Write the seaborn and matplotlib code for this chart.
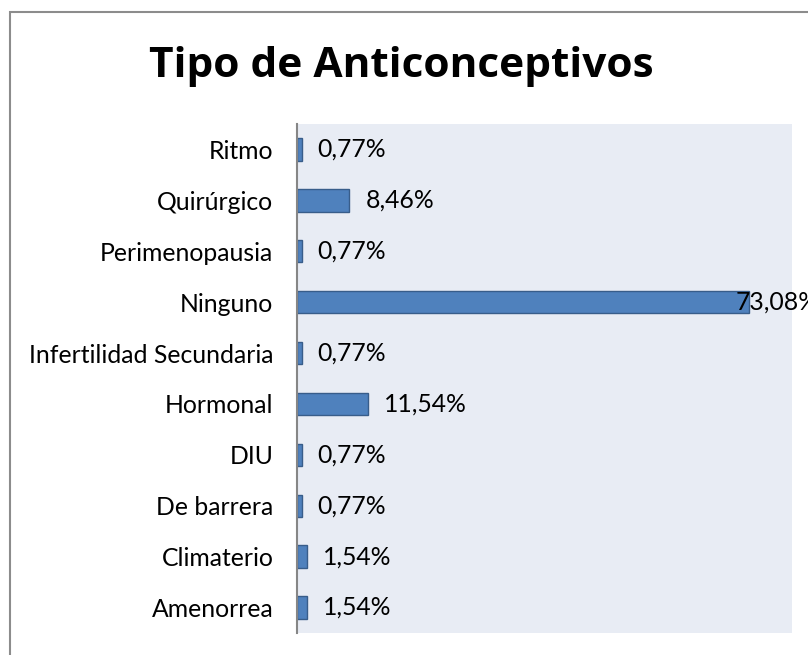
import matplotlib
matplotlib.use("Agg")
import matplotlib.pyplot as plt
import seaborn as sns
import pandas as pd
from matplotlib.patches import Rectangle

categorias = ["Ritmo", "Quirúrgico", "Perimenopausia", "Ninguno",
              "Infertilidad Secundaria", "Hormonal", "DIU", "De barrera",
              "Climaterio", "Amenorrea"]
porcentajes = [0.77, 8.46, 0.77, 73.08, 0.77, 11.54, 0.77, 0.77, 1.54, 1.54]
titulo = "Tipo de Anticonceptivos"

df = pd.DataFrame({"tipo": categorias, "pct": porcentajes})

sns.set_theme(style="white")
plt.rcParams["font.family"] = ["Lato", "DejaVu Sans"]

fig = plt.figure(figsize=(8.08, 6.55), dpi=100)
ax = fig.add_axes([297 / 808, 1 - 633 / 655, (792 - 297) / 808, (633 - 124) / 655])

sns.barplot(data=df, x="pct", y="tipo", orient="h", ax=ax, color="#4F81BD",
            edgecolor="#385D8A", linewidth=1, width=0.44, saturation=1)

ax.set_facecolor("#E8ECF4")
ax.set_xlim(0, 80)
ax.set_xticks([])
ax.set_xlabel("")
ax.set_ylabel("")
for s in ["top", "right", "bottom"]:
    ax.spines[s].set_visible(False)
ax.spines["left"].set_color("#868686")
ax.spines["left"].set_linewidth(1.5)
ax.tick_params(axis="y", length=0, pad=17, labelsize=17.8, labelcolor="black")

# etiquetas de valor; la mayor se mete dentro de la barra como en el original
vmax = max(porcentajes)
for i, v in enumerate(porcentajes):
    txt = f"{v:.2f}".replace(".", ",") + "%"
    off = -10 if v == vmax else 11.5
    ax.annotate(txt, (v, i), xytext=(off, 0), textcoords="offset points",
                va="center", ha="left", fontsize=17.8, color="black",
                annotation_clip=False)

fig.text(0.497, 1 - 77 / 655, titulo, ha="center", va="baseline",
         fontsize=30.5, fontweight="bold", color="black",
         family=["Open Sans", "DejaVu Sans"])

# marco gris del gráfico
fig.patches.append(Rectangle((10 / 808, -0.05), 1.2, 1.05 - 12 / 655,
                             transform=fig.transFigure, fill=False,
                             edgecolor="#8C8C8C", linewidth=1.5))

fig.savefig("out.png", dpi=100)
